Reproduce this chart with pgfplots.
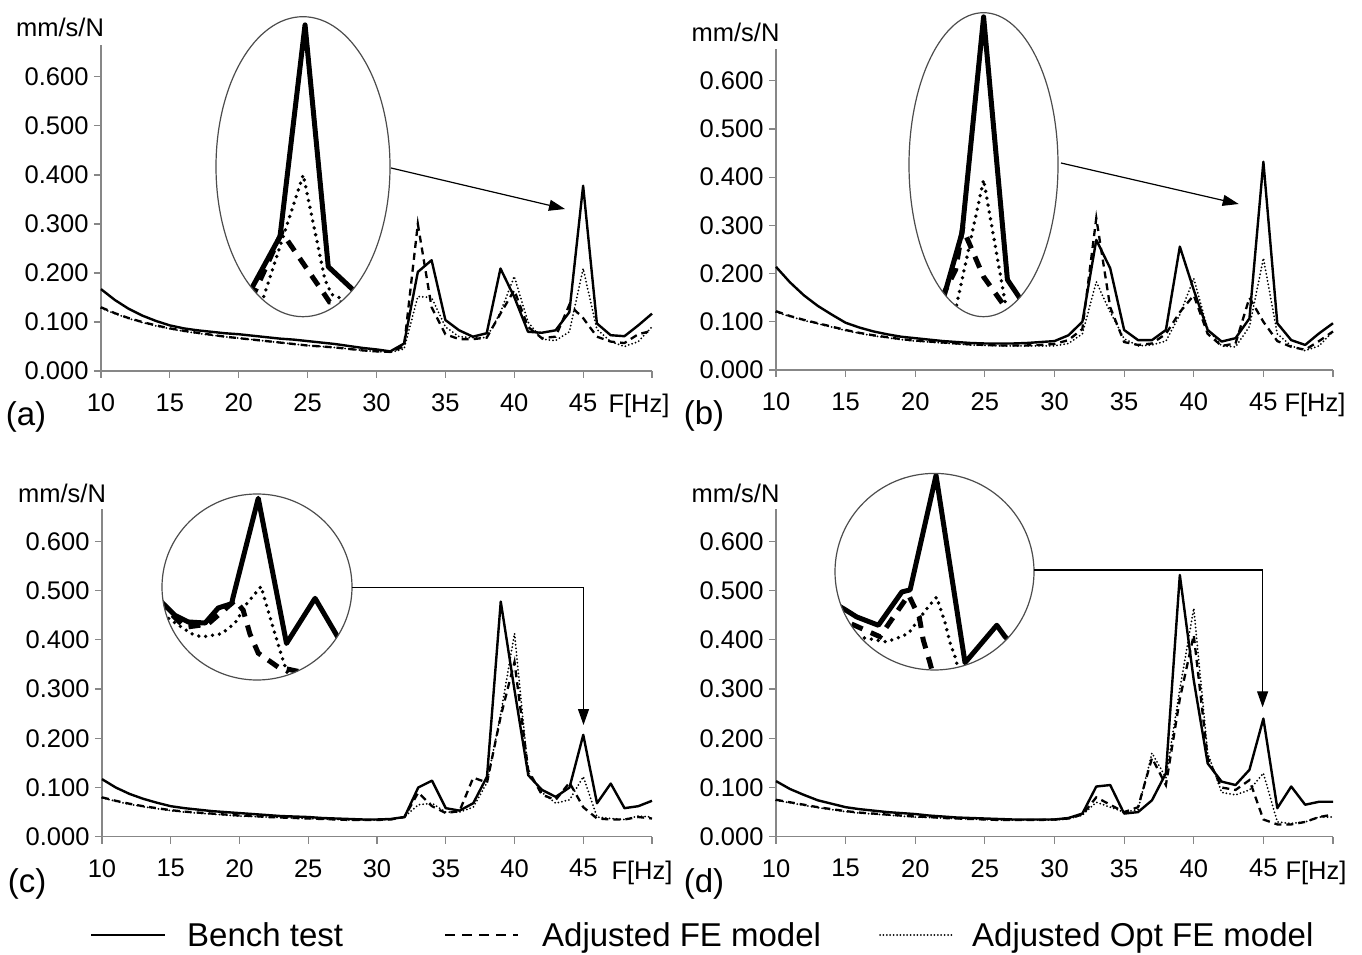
\documentclass[border=0pt]{standalone}
\usepackage{fontspec}
\setmainfont{Liberation Sans}
\usepackage{pgfplots}
\usepackage{pgfplotstable}
\pgfplotsset{compat=1.18}
\usetikzlibrary{arrows.meta}

\pgfplotstableread{
f b a o
10 .167 .130 .128
11 .145 .118 .117
12 .127 .108 .107
13 .113 .100 .099
14 .102 .093 .092
15 .093 .087 .086
16 .087 .082 .081
17 .083 .078 .077
18 .080 .074 .073
19 .077 .070 .070
20 .075 .067 .067
21 .072 .064 .064
22 .069 .061 .061
23 .066 .058 .058
24 .064 .055 .055
25 .061 .052 .052
26 .058 .050 .050
27 .055 .048 .048
28 .051 .045 .045
29 .047 .042 .042
30 .044 .040 .040
31 .040 .039 .038
32 .056 .050 .045
33 .202 .300 .152
34 .226 .130 .150
35 .104 .075 .090
36 .083 .065 .070
37 .070 .065 .068
38 .077 .068 .068
39 .209 .117 .120
40 .151 .165 .193
41 .080 .090 .100
42 .078 .067 .065
43 .083 .070 .062
44 .120 .135 .080
45 .378 .108 .209
46 .097 .070 .085
47 .073 .060 .060
48 .071 .057 .050
49 .093 .075 .060
50 .117 .082 .090
}\dataA

\pgfplotstableread{
f b a o
10 .214 .122 .120
11 .182 .112 .111
12 .155 .104 .103
13 .133 .097 .096
14 .115 .090 .089
15 .098 .083 .082
16 .088 .077 .076
17 .080 .072 .071
18 .074 .068 .067
19 .069 .064 .063
20 .066 .061 .060
21 .063 .059 .058
22 .060 .057 .056
23 .058 .055 .054
24 .056 .053 .052
25 .055 .052 .051
26 .055 .051 .050
27 .055 .051 .050
28 .056 .051 .050
29 .058 .052 .050
30 .060 .054 .050
31 .072 .062 .055
32 .100 .085 .075
33 .270 .315 .183
34 .211 .130 .120
35 .083 .058 .065
36 .062 .052 .050
37 .062 .055 .052
38 .083 .075 .060
39 .256 .120 .115
40 .166 .155 .190
41 .083 .075 .085
42 .059 .050 .050
43 .066 .055 .048
44 .107 .150 .090
45 .432 .100 .232
46 .097 .060 .075
47 .062 .048 .050
48 .052 .042 .040
49 .076 .060 .050
50 .097 .080 .080
}\dataB

\pgfplotstableread{
f b a o
10 .117 .080 .079
11 .100 .073 .072
12 .087 .067 .066
13 .077 .062 .061
14 .069 .058 .057
15 .062 .054 .053
16 .058 .051 .050
17 .055 .049 .048
18 .052 .047 .046
19 .050 .045 .044
20 .048 .043 .042
21 .046 .042 .041
22 .044 .040 .040
23 .042 .039 .039
24 .041 .038 .038
25 .040 .037 .037
26 .038 .036 .036
27 .037 .035 .035
28 .036 .034 .034
29 .035 .034 .034
30 .035 .034 .034
31 .036 .035 .035
32 .040 .040 .040
33 .100 .090 .065
34 .114 .062 .068
35 .058 .048 .050
36 .053 .052 .050
37 .068 .120 .060
38 .122 .110 .110
39 .478 .245 .250
40 .298 .355 .413
41 .125 .135 .130
42 .095 .085 .090
43 .081 .075 .068
44 .100 .110 .075
45 .207 .060 .122
46 .068 .037 .040
47 .108 .035 .037
48 .058 .035 .035
49 .062 .040 .042
50 .073 .037 .040
}\dataC

\pgfplotstableread{
f b a o
10 .113 .075 .074
11 .097 .070 .069
12 .085 .065 .064
13 .074 .060 .059
14 .067 .056 .055
15 .060 .052 .051
16 .056 .049 .048
17 .053 .047 .046
18 .050 .045 .044
19 .048 .043 .042
20 .046 .041 .040
21 .043 .040 .039
22 .041 .038 .038
23 .039 .037 .037
24 .038 .036 .036
25 .037 .035 .035
26 .036 .034 .034
27 .035 .034 .034
28 .035 .034 .034
29 .035 .034 .034
30 .035 .035 .034
31 .038 .037 .036
32 .047 .045 .044
33 .102 .080 .070
34 .105 .065 .060
35 .047 .050 .050
36 .050 .060 .055
37 .074 .160 .170
38 .129 .105 .120
39 .532 .280 .300
40 .318 .410 .464
41 .149 .160 .170
42 .112 .100 .090
43 .105 .095 .085
44 .136 .115 .095
45 .240 .035 .129
46 .058 .025 .030
47 .102 .025 .027
48 .065 .030 .030
49 .071 .040 .040
50 .071 .045 .040
}\dataD

\newcommand\tickfont{\fontsize{25.5}{30}\selectfont}
\newcommand\bigfont{\fontsize{33}{40}\selectfont}
\definecolor{axgray}{RGB}{135,135,135}

\pgfplotsset{
  panel/.style={
    scale only axis, anchor=south west,
    xmin=10, xmax=50, ymin=0,
    axis x line=bottom, axis y line=left,
    axis line style={-, axgray, line width=1.4pt},
    tick style={axgray, line width=1.2pt},
    tick align=outside, major tick length=7pt,
    xtick={10,15,...,50}, xticklabels={10,15,20,25,30,35,40,45,{}},
    ytick={0,0.1,...,0.61},
    /pgf/number format/assume math mode=true,
    yticklabel style={xshift=-2pt, /pgf/number format/.cd, fixed, fixed zerofill, precision=3},
    tick label style={font=\tickfont, text=black},
    xticklabel style={yshift=-12pt},
    clip=false,
  },
  bench/.style={black, line width=2.4pt, line join=round},
  adj/.style={black, line width=2.3pt, dash pattern=on 7pt off 5pt},
  opt/.style={black, line width=2pt, line cap=round, dash pattern=on 0pt off 3.6pt},
  inset/.style={scale only axis, anchor=south west, hide axis, clip=false},
  ibench/.style={black, line width=5pt, line join=round},
  iadj/.style={black, line width=5pt, dash pattern=on 12pt off 9pt},
  iopt/.style={black, line width=3.8pt, line cap=round, dash pattern=on 0pt off 7pt},
}

\begin{document}
\begin{tikzpicture}[x=1pt,y=1pt]
\useasboundingbox (0,0) rectangle (1362,954);

% ---------------- (a)
\begin{axis}[panel, at={(101pt,583pt)}, width=551pt, height=326pt, ymax=0.665]
\addplot[bench] table[x=f,y=b]{\dataA};
\addplot[adj] table[x=f,y=a]{\dataA};
\addplot[opt] table[x=f,y=o]{\dataA};
\end{axis}
\begin{scope}
\clip (303,787.3) ellipse [x radius=87pt, y radius=150pt];
\begin{axis}[inset, at={(216pt,637.3pt)}, width=174pt, height=300pt,
  xmin=41.55, xmax=48.37, ymin=0.022, ymax=0.388]
\addplot[ibench] coordinates {(42.5,0.031) (44.06,0.12) (45.04,0.378) (45.95,0.083) (47.5,0.038)};
\addplot[iadj] coordinates {(42.6,0.02) (44.13,0.125) (45.85,0.047) (46.0,0.04) (47.0,0.037)};
\addplot[iopt] coordinates {(43.0,0.006) (44.97,0.195) (45.82,0.067) (46.09,0.049) (46.8,0.04)};
\end{axis}
\end{scope}
\draw[black!70, line width=1.2pt] (303,787.3) ellipse [x radius=87pt, y radius=150pt];
\draw[line width=1.2pt, -{Triangle[length=16pt,width=11pt]}] (391,786) -- (565,745);
\node[font=\tickfont] at (60,927) {mm/s/N};
\node[font=\tickfont, anchor=base] at (639,541) {F[Hz]};
\node[font=\bigfont] at (26,537) {(a)};

% ---------------- (b)
\begin{axis}[panel, at={(776pt,584pt)}, width=557pt, height=321pt, ymax=0.666]
\addplot[bench] table[x=f,y=b]{\dataB};
\addplot[adj] table[x=f,y=a]{\dataB};
\addplot[opt] table[x=f,y=o]{\dataB};
\end{axis}
\begin{scope}
\clip (983.5,789.3) ellipse [x radius=74.5pt, y radius=152pt];
\begin{axis}[inset, at={(909pt,637.3pt)}, width=149pt, height=304pt,
  xmin=41.27, xmax=48.72, ymin=0.003, ymax=0.438]
\addplot[ibench] coordinates {(42.7,0.0) (43.92,0.123) (45.0,0.432) (46.19,0.056) (47.5,0.0)};
\addplot[iadj] coordinates {(42.9,0.03) (43.6,0.07) (43.95,0.13) (45.0,0.06) (46.0,0.02) (46.5,0.0)};
\addplot[iopt] coordinates {(43.5,0.0) (45.0,0.199) (46.1,0.02)};
\end{axis}
\end{scope}
\draw[black!70, line width=1.2pt] (983.5,789.3) ellipse [x radius=74.5pt, y radius=152pt];
\draw[line width=1.2pt, -{Triangle[length=16pt,width=11pt]}] (1061,791) -- (1238.7,750);
\node[font=\tickfont] at (735.5,922) {mm/s/N};
\node[font=\tickfont, anchor=base] at (1315,542) {F[Hz]};
\node[font=\bigfont] at (704,538) {(b)};

% ---------------- (c)
\begin{axis}[panel, at={(102pt,117.3pt)}, width=550pt, height=327.7pt, ymax=0.666]
\addplot[bench] table[x=f,y=b]{\dataC};
\addplot[adj] table[x=f,y=a]{\dataC};
\addplot[opt] table[x=f,y=o]{\dataC};
\end{axis}
\begin{scope}
\clip (257,367) ellipse [x radius=95pt, y radius=93pt];
\begin{axis}[inset, at={(162pt,274pt)}, width=190pt, height=186pt,
  xmin=41.56, xmax=48.35, ymin=0.036, ymax=0.209]
\addplot[ibench] coordinates {(41.3,0.115) (41.6,0.107) (42.03,0.096) (42.5,0.09) (43.1,0.089) (43.57,0.103) (44.05,0.107) (44.1,0.113) (45.0,0.205) (46.01,0.07) (47.03,0.112) (47.84,0.076) (48.5,0.05)};
\addplot[iadj] coordinates {(41.4,0.11) (42.38,0.085) (43.2,0.088) (44.17,0.11) (44.46,0.101) (44.7,0.079) (45.0,0.061) (45.71,0.048) (46.43,0.044) (47.5,0.046)};
\addplot[iopt] coordinates {(41.6,0.097) (42.03,0.089) (42.62,0.079) (42.98,0.076) (43.69,0.079) (44.17,0.089) (44.59,0.107) (45.1,0.123) (45.48,0.089) (45.89,0.054) (46.2,0.03)};
\end{axis}
\end{scope}
\draw[black!70, line width=1.2pt] (257,367) ellipse [x radius=95pt, y radius=93pt];
\draw[line width=1.2pt, -{Triangle[length=16pt,width=11pt]}] (352,366.7) -- (583.5,366.7) -- (583.5,229);
\node[font=\tickfont] at (62,461) {mm/s/N};
\node[font=\tickfont, anchor=base] at (642,75) {F[Hz]};
\node[font=\bigfont] at (27,70) {(c)};

% ---------------- (d)
\begin{axis}[panel, at={(776pt,117.3pt)}, width=557pt, height=327.7pt, ymax=0.666]
\addplot[bench] table[x=f,y=b]{\dataD};
\addplot[adj] table[x=f,y=a]{\dataD};
\addplot[opt] table[x=f,y=o]{\dataD};
\end{axis}
\begin{scope}
\clip (934.5,382.3) ellipse [x radius=99.5pt, y radius=98.3pt];
\begin{axis}[inset, at={(835pt,284pt)}, width=199pt, height=196.7pt,
  xmin=41.69, xmax=48.21, ymin=0.058, ymax=0.247]
\addplot[ibench] coordinates {(41.5,0.125) (42.02,0.116) (42.4,0.109) (43.11,0.101) (43.88,0.133) (44.15,0.135) (45.0,0.245) (45.95,0.065) (46.99,0.101) (47.26,0.09) (48.0,0.07)};
\addplot[iadj] coordinates {(41.6,0.11) (42.4,0.1) (43.16,0.09) (44.1,0.13) (44.45,0.109) (44.58,0.087) (44.8,0.065) (45.2,0.02)};
\addplot[iopt] coordinates {(42.0,0.095) (42.62,0.089) (43.38,0.085) (43.76,0.089) (44.09,0.093) (44.37,0.104) (44.75,0.119) (45.02,0.128) (45.3,0.103) (45.46,0.084) (45.62,0.071) (45.9,0.04)};
\end{axis}
\end{scope}
\draw[black!70, line width=1.2pt] (934.5,382.3) ellipse [x radius=99.5pt, y radius=98.3pt];
\draw[line width=1.2pt, -{Triangle[length=16pt,width=11pt]}] (1034,384) -- (1262.6,384) -- (1262.6,246.7);
\node[font=\tickfont] at (735.5,461) {mm/s/N};
\node[font=\tickfont, anchor=base] at (1316,75) {F[Hz]};
\node[font=\bigfont] at (704,70) {(d)};

% ---------------- legend
\draw[black, line width=2.4pt] (91,19) -- (165,19);
\node[font=\bigfont, anchor=base west, inner sep=0pt] at (187,7.5) {Bench test};
\draw[black, line width=2.2pt, dash pattern=on 10pt off 7pt] (445,19) -- (518,19);
\node[font=\bigfont, anchor=base west, inner sep=0pt] at (542,7.5) {Adjusted FE model};
\draw[black, line width=2pt, line cap=round, dash pattern=on 0pt off 3.4pt] (880,19) -- (952,19);
\node[font=\bigfont, anchor=base west, inner sep=0pt] at (972,7.5) {Adjusted Opt FE model};
\end{tikzpicture}
\end{document}
